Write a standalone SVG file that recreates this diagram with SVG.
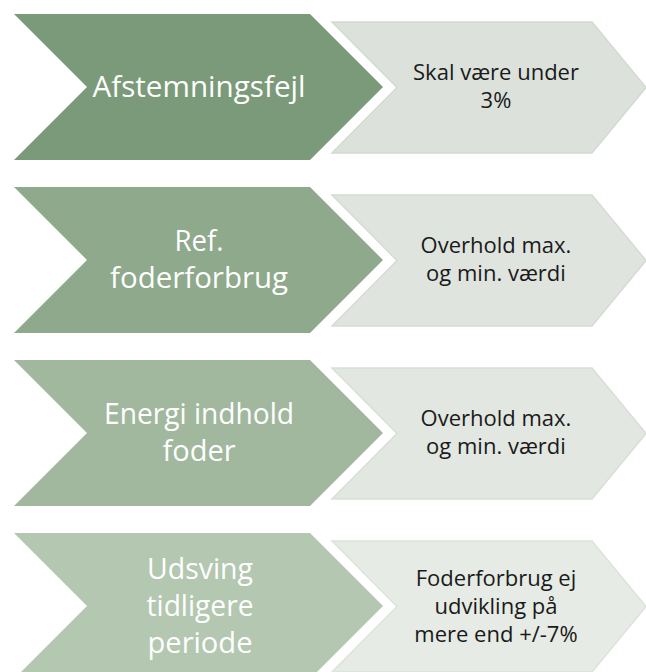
<svg xmlns="http://www.w3.org/2000/svg" width="646" height="672" viewBox="0 0 646 672">
  <defs>
    <style>
      .lt { font-family: "Open Sans", "Liberation Sans", sans-serif; font-size: 30px; fill: #ffffff; text-anchor: middle; }
      .rt { font-family: "Open Sans", "Liberation Sans", sans-serif; font-size: 22px; fill: #1a1a1a; text-anchor: middle; }
      .side { stroke-width: 1.5; }
    </style>
    <path id="big" d="M14,0 H310 L383,73 L310,146 H14 L87,73 Z"/>
    <path id="small" d="M332,8 H592 L646,73.5 L592,139 H332 L397,73.5 Z"/>
  </defs>
  <rect width="646" height="672" fill="#ffffff"/>
  <g id="connectors"/>

  <g id="row1">
    <use href="#small" y="14" fill="#dce2db" stroke="#d2dad1" class="side"/>
    <use href="#big" y="14" fill="#7b9a79"/>
    <text class="lt" x="199" y="97" textLength="213" lengthAdjust="spacingAndGlyphs">Afstemningsfejl</text>
    <text class="rt" x="496" y="80">Skal være under</text>
    <text class="rt" x="496" y="108">3%</text>
  </g>

  <g id="row2">
    <use href="#small" y="187" fill="#dfe4de" stroke="#d5dcd4" class="side"/>
    <use href="#big" y="187" fill="#8ea98c"/>
    <text class="lt" x="199" y="251" textLength="49" lengthAdjust="spacingAndGlyphs">Ref.</text>
    <text class="lt" x="199" y="288" textLength="178" lengthAdjust="spacingAndGlyphs">foderforbrug</text>
    <text class="rt" x="496" y="253">Overhold max.</text>
    <text class="rt" x="496" y="281">og min. værdi</text>
  </g>

  <g id="row3">
    <use href="#small" y="360" fill="#e2e7e1" stroke="#d8dfd7" class="side"/>
    <use href="#big" y="360" fill="#a1b89e"/>
    <text class="lt" x="199" y="424" textLength="190" lengthAdjust="spacingAndGlyphs">Energi indhold</text>
    <text class="lt" x="199" y="461" textLength="73" lengthAdjust="spacingAndGlyphs">foder</text>
    <text class="rt" x="496" y="426">Overhold max.</text>
    <text class="rt" x="496" y="454">og min. værdi</text>
  </g>

  <g id="row4">
    <use href="#small" y="533" fill="#e6ebe5" stroke="#dce3db" class="side"/>
    <use href="#big" y="533" fill="#b4c7b1"/>
    <text class="lt" x="200" y="579" textLength="106" lengthAdjust="spacingAndGlyphs">Udsving</text>
    <text class="lt" x="200" y="616" textLength="107" lengthAdjust="spacingAndGlyphs">tidligere</text>
    <text class="lt" x="200" y="653" textLength="105" lengthAdjust="spacingAndGlyphs">periode</text>
    <text class="rt" x="496" y="586">Foderforbrug ej</text>
    <text class="rt" x="496" y="614">udvikling på</text>
    <text class="rt" x="496" y="642">mere end +/-7%</text>
  </g>
</svg>
